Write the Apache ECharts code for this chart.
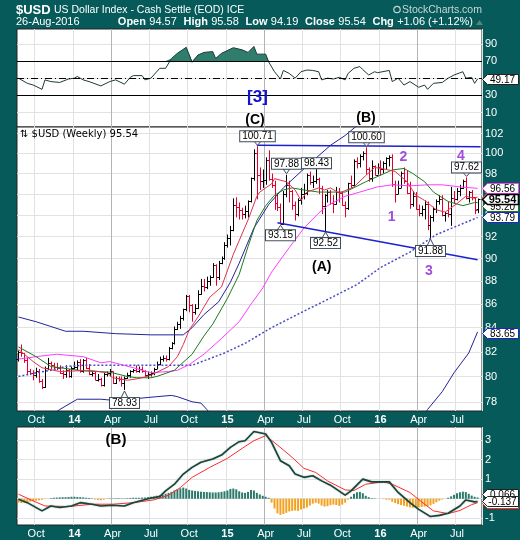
<!DOCTYPE html>
<html>
<head>
<meta charset="utf-8">
<title>$USD US Dollar Index</title>
<script src="https://cdn.jsdelivr.net/npm/echarts@6.0.0/dist/echarts.min.js"></script>
<style>
html,body{margin:0;padding:0;background:#065a5a;overflow:hidden;}
#chart{width:520px;height:540px;}
</style>
</head>
<body>
<div id="chart"></div>
<script>
// ================= DATA =================
const firstWeek = '2013-08-30';   // week-ending date of first bar
const categoryCount = 158;        // 157 weekly bars + 1 spare slot on the right

// weekly bars: [open, high, low, close]
const ohlc = [
 [81.4,82.1,81.2,82.0],[82.0,82.6,81.6,81.9],[81.9,81.9,81.1,81.3],[81.3,81.5,80.1,80.4],[80.4,80.6,80.1,80.3],
 [80.3,80.5,79.7,80.1],[80.1,80.7,79.9,80.4],[80.4,80.6,79.5,79.6],[79.6,79.8,79.0,79.2],[79.2,80.8,79.1,80.7],
 [80.7,81.5,80.5,81.1],[81.1,81.2,80.6,80.9],[80.9,81.1,80.5,80.8],[80.8,81.1,80.5,80.7],[80.7,80.9,80.2,80.3],
 [80.3,80.5,79.8,80.2],[80.2,80.9,79.9,80.5],[80.5,80.6,79.9,80.0],
 [80.0,80.8,79.9,80.7],[80.7,81.2,80.6,80.8],[80.8,81.3,80.5,81.2],[81.2,81.4,80.3,80.4],[80.4,81.4,80.3,81.3],
 [81.3,81.5,80.6,80.7],[80.7,81.0,80.1,80.2],[80.2,80.4,80.0,80.3],[80.3,80.4,79.7,79.7],[79.7,80.2,79.6,79.8],
 [79.8,79.9,79.2,79.3],[79.3,80.3,79.2,80.2],[80.2,80.4,80.0,80.3],[80.3,80.6,80.0,80.4],[80.4,80.4,79.4,79.5],
 [79.5,80.0,79.4,79.9],[79.9,80.0,79.6,79.8],[79.8,80.0,79.2,79.5],[79.5,80.0,78.93,79.9],[79.9,80.3,79.8,80.1],
 [80.1,80.5,79.9,80.4],[80.4,80.6,80.3,80.5],[80.5,80.9,80.3,80.4],[80.4,80.8,80.3,80.6],[80.6,80.8,80.3,80.4],
 [80.4,80.5,80.0,80.1],[80.1,80.4,79.8,80.2],[80.2,80.4,80.0,80.3],[80.3,80.7,80.1,80.6],[80.6,81.2,80.6,81.0],
 [81.0,81.6,80.9,81.4],[81.4,81.7,81.2,81.5],[81.5,81.7,81.2,81.4],[81.4,82.4,81.3,82.3],[82.3,82.8,82.2,82.7],
 [82.7,84.1,82.6,83.9],[83.9,84.5,83.8,84.3],[84.3,85.0,83.9,84.8],[84.8,85.6,84.6,85.6],[85.6,86.8,85.4,86.7],
 [86.7,86.8,85.3,85.9],[85.9,86.0,84.5,85.3],[85.3,86.0,85.1,85.7],[85.7,87.2,85.6,86.9],[86.9,88.2,86.8,87.6],
 [87.6,88.2,87.1,87.5],[87.5,88.4,87.3,88.0],[88.0,88.5,87.6,88.4],[88.4,89.6,88.3,89.4],[89.4,89.5,87.6,88.4],
 [88.4,89.8,88.1,89.6],[89.6,90.2,89.5,90.1],
 [90.1,91.5,89.9,91.2],[91.2,92.2,91.0,91.9],[91.9,93.0,91.2,92.6],[92.6,95.6,92.5,95.0],[95.0,95.7,93.8,94.8],
 [94.8,95.2,93.6,94.5],[94.5,94.7,93.6,94.1],[94.1,94.9,93.7,94.4],[94.4,95.4,93.8,95.3],[95.3,97.6,95.2,97.6],
 [97.6,100.4,97.3,100.0],[100.0,100.71,95.5,97.9],[97.9,98.6,96.4,97.3],[97.3,98.4,96.6,97.4],[97.4,99.6,96.9,99.3],
 [99.3,100.3,97.3,97.5],[97.5,98.0,96.6,96.9],[96.9,97.3,94.5,95.2],[95.2,96.0,94.4,94.8],[94.8,95.1,93.15,93.2],
 [93.2,96.3,93.1,96.0],[96.0,97.88,95.7,96.9],[96.9,97.3,95.2,96.3],[96.3,96.4,94.5,95.0],[95.0,95.3,93.5,94.1],
 [94.1,95.6,93.9,95.4],[95.4,96.6,95.0,96.0],[96.0,97.0,95.5,96.1],[96.1,98.0,95.9,97.9],[97.9,98.2,96.9,97.2],
 [97.2,97.8,96.6,97.3],[97.3,98.43,97.0,97.5],[97.5,97.6,96.0,96.6],[96.6,96.8,94.1,94.9],[94.9,96.0,92.52,95.9],
 [95.9,96.4,95.2,96.2],[96.2,96.4,95.0,95.2],[95.2,95.9,94.2,95.1],[95.1,96.7,95.0,96.2],[96.2,96.6,95.2,96.1],
 [96.1,96.2,94.9,95.0],[95.0,95.3,93.8,94.7],[94.7,97.1,94.5,97.1],[97.1,97.8,96.6,96.9],[96.9,99.4,96.8,99.2],
 [99.2,99.6,98.5,99.0],[99.0,99.9,98.6,99.7],[99.7,100.2,99.3,100.0],[100.0,100.60,97.9,98.4],[98.4,98.6,97.2,97.6],
 [97.6,99.3,97.2,98.7],[98.7,98.8,97.8,97.9],
 [97.9,99.0,97.9,98.6],[98.6,99.3,97.8,98.4],[98.4,99.2,98.0,99.0],[99.0,99.6,98.4,99.5],[99.5,99.8,98.7,99.6],
 [99.6,99.9,96.7,97.0],[97.0,97.3,95.2,96.0],[96.0,97.3,96.0,96.6],[96.6,98.2,96.6,98.1],[98.1,98.6,97.0,97.3],
 [97.3,98.3,96.0,96.1],[96.1,97.2,94.6,95.1],[95.1,96.3,94.8,95.8],[95.8,96.2,94.5,94.6],[94.6,95.0,93.9,94.2],
 [94.2,94.9,93.9,94.6],[94.6,95.4,93.6,95.1],[95.1,95.3,92.6,93.1],[93.1,94.0,91.88,93.8],[93.8,94.8,93.4,94.6],
 [94.6,95.5,94.2,95.3],[95.3,95.9,95.0,95.5],[95.5,95.9,93.9,94.0],[94.0,94.3,93.4,94.2],[94.2,95.3,93.8,94.1],
 [94.1,96.7,93.0,95.6],[95.6,96.3,95.1,95.5],[95.5,96.6,95.4,96.3],[96.3,96.9,95.8,96.6],[96.6,97.4,96.5,97.3],
 [97.3,97.62,95.5,95.6],[95.6,96.3,95.2,96.2],[96.2,96.4,95.4,95.7],[95.7,95.7,94.1,94.5],[94.57,95.58,94.19,95.54]
];

// overlays: [weekIndex, value]
const ma10 = [[0,82.2],[5,81.2],[8,80.7],[14,80.4],[20,80.45],[24,80.5],[30,80.3],[32,79.9],[37,79.7],[40,79.8],[42,79.9],[45,80.1],[51,80.8],[54,81.6],[56,82.6],[58,83.8],[61,84.9],[65,86.6],[69,87.5],[73,90.4],[78,93.55],[81,95.8],[82,96.2],[86,97.0],[87,97.5],[91,97.2],[94,96.4],[96,95.4],[98,96.2],[102,96.6],[104,96.4],[106,96.6],[109,96.1],[114,96.7],[118,97.8],[121,98.6],[125,98.4],[128,98.2],[132,97.2],[135,95.9],[138,95.4],[142,94.5],[145,94.3],[149,95.1],[152,95.8],[155,95.6],[156,95.74]];
const ma20 = [[0,82.4],[6,81.6],[11,80.8],[22,80.45],[31,80.35],[37,80.0],[40,79.9],[45,79.9],[47,80.0],[53,80.5],[59,81.8],[63,83.3],[66,84.3],[71,86.5],[75,88.6],[78,91.1],[81,93.5],[84,94.9],[87,95.9],[90,96.4],[93,96.6],[97,96.4],[102,96.2],[106,96.2],[111,96.2],[118,97.2],[127,98.35],[131,98.5],[134,98.0],[138,97.2],[141,96.2],[146,95.3],[151,94.9],[155,95.2],[156,95.2]];
const ma50 = [[0,81.4],[6,81.6],[13,81.8],[22,81.6],[28,81.1],[31,81.2],[39,80.7],[45,80.3],[51,80.4],[54,80.5],[58,80.95],[63,81.8],[69,83.1],[75,84.5],[79,86.0],[83,87.4],[86,88.8],[92,91.0],[97,92.8],[102,94.2],[105,94.9],[109,95.5],[111,95.8],[116,96.2],[122,96.7],[127,96.9],[133,96.8],[139,96.9],[144,96.9],[150,96.7],[156,96.56]];
const longMA = [[0,80.0],[6,80.3],[11,80.5],[16,80.8],[22,80.9],[33,80.9],[45,80.9],[54,80.9],[59,80.9],[64,81.35],[70,81.9],[77,82.7],[86,84.0],[97,85.4],[105,86.4],[115,87.7],[123,89.2],[133,90.6],[142,92.2],[150,93.1],[156,93.79]];
const upperBand = [[0,84.9],[6,84.5],[11,84.1],[16,83.7],[22,83.7],[33,83.5],[45,83.4],[53,83.4],[56,83.4],[59,84.0],[63,85.1],[68,86.2],[72,87.9],[75,89.6],[80,92.8],[85,95.0],[90,96.6],[96,98.2],[101,99.5],[106,100.8],[111,101.8],[115,102.8],[120,103.8]];
const lowerBandA = [[9,76.6],[14,77.4],[20,78.2],[28,78.2],[33,78.1],[47,78.4],[52,78.5],[54,78.4],[59,78.0],[62,77.9],[64,77.4],[67,76.6]];
const lowerBandB = [[136,76.3],[139,77.4],[144,78.8],[148,80.3],[153,81.9],[156,83.65]];
const topTrend = [[81,100.8],[157,100.66]];
const bottomTrend = [[88,93.3],[156,89.9]];

const rsi = [[0,50],[3,44],[5,42],[8,37],[9,48],[11,46],[14,45],[17,49],[19,50],[20,52],[22,48],[24,46],[28,41],[31,46],[33,48],[36,43],[38,51],[39,53],[42,53],[43,48],[45,50],[48,61.5],[50,61.5],[52,73],[54,79],[57,86],[59,68.5],[61,77],[63,80],[66,81],[67,73],[69,79],[73,85.5],[76,83],[78,80],[80,87],[81,78],[84,78],[85,69],[87,57.5],[89,49],[90,59],[92,55.5],[94,50],[96,57.5],[98,59.5],[100,59],[102,57.5],[103,48],[105,50],[107,49],[109,51],[111,48],[112,55.5],[114,61.5],[116,63.5],[117,60],[119,53.7],[121,57.5],[122,56.4],[126,59],[127,46],[129,50],[131,42],[133,46],[136,39.4],[138,42],[139,37],[141,44],[144,45],[146,50],[148,53.7],[151,57.5],[152,50],[154,51],[155,44],[156,49.17]];

const macdLine = [[0,-0.03],[3,-0.2],[8,-0.62],[11,-0.37],[14,-0.45],[18,-0.37],[21,-0.2],[25,-0.28],[28,-0.37],[32,-0.33],[36,-0.37],[39,-0.2],[44,0],[48,0.11],[50,0.4],[53,0.74],[56,1.26],[59,1.6],[62,1.86],[66,2.03],[69,2.23],[72,2.62],[75,2.91],[77,2.96],[80,3.43],[84,3.3],[86,2.88],[89,1.94],[92,1.68],[94,1.26],[97,1.09],[100,1.17],[103,0.91],[106,0.69],[111,0.18],[113,0.4],[117,1.0],[120,0.86],[126,0.86],[129,0.32],[133,-0.2],[136,-0.54],[140,-0.91],[143,-0.85],[146,-0.74],[150,-0.37],[152,-0.06],[155,-0.16],[156,-0.137]];
const signalLine = [[0,0.23],[5,-0.11],[9,-0.37],[17,-0.4],[25,-0.28],[32,-0.28],[39,-0.2],[46,-0.06],[51,0.18],[55,0.57],[59,1.09],[65,1.6],[71,2.06],[76,2.57],[80,2.96],[84,3.22],[88,2.74],[93,2.11],[97,1.55],[101,1.34],[105,0.91],[111,0.45],[114,0.42],[118,0.74],[124,0.86],[127,0.74],[133,0.32],[137,-0.16],[141,-0.62],[146,-0.76],[150,-0.6],[154,-0.3],[156,-0.203]];
const histogram = [
 -0.2,-0.22,-0.2,-0.18,-0.15,-0.12,-0.1,-0.08,-0.05,-0.02,0.0,
 0.03,0.05,0.06,0.07,0.08,0.08,0.09,0.1,0.1,0.09,0.08,0.07,0.05,0.04,0.02,
 -0.04,-0.07,-0.08,-0.05,
 0.01,0.02,0.02,0.03,0.03,0.02,0.02,0.03,0.04,0.05,0.05,0.05,0.06,0.06,
 0.08,0.1,0.12,0.15,0.18,0.2,
 0.25,0.3,0.35,0.42,0.48,0.53,0.57,
 0.52,0.45,0.42,0.4,0.38,0.36,0.35,0.34,0.33,0.32,0.32,0.33,0.35,0.38,0.42,
 0.5,0.52,0.48,0.38,0.32,0.3,0.35,0.45,0.42,0.3,0.22,0.15,0.1,0.05,
 -0.2,-0.5,-0.75,-0.82,-0.78,-0.72,-0.65,-0.62,-0.6,-0.62,
 -0.55,-0.5,-0.45,-0.35,-0.25,-0.2,-0.25,-0.35,
 -0.4,-0.38,-0.33,-0.3,-0.32,-0.36,-0.3,-0.2,-0.05,0.1,
 0.25,0.33,0.35,0.28,0.15,0.08,0.03,0.02,
 0.0,0.0,-0.02,-0.05,
 -0.05,-0.15,-0.22,-0.28,-0.32,-0.36,-0.4,-0.44,-0.46,-0.46,-0.44,-0.42,-0.4,-0.38,-0.34,-0.26,-0.18,-0.1,-0.04,0.0,
 0.05,0.12,0.2,0.28,0.33,0.36,0.34,0.25,0.16,0.1,0.066
];

const priceTicks = [78,80,82,84,86,88,90,92,94,96,98,100,102];
const rsiTickLabels = [10,30,70,90];
const rsiGridLines = [10,30,50,70,90];
const macdTicks = [-1,0,1,2,3];

// price annotations [weekIndex, value, above(true)/below(false), gap px]
const priceNotes = [[81,100.71,true,10],[91,97.88,true,11],[101,98.43,true,6],[89,93.15,false,11],[104,92.52,false,12],
                    [118,100.60,true,10],[140,91.88,false,13],[152,97.62,true,10],[36,78.93,false,13]];

// ================= BUILD =================
const DAY = 86400000;
const t0 = Date.parse(firstWeek + 'T00:00:00Z');
const cats = [], months = [], years = [];
for (let k = 0; k < categoryCount; k++) {
  const d = new Date(t0 + 7 * k * DAY);
  cats.push(d.toISOString().slice(0, 10));
  months.push(d.getUTCMonth());
  years.push(d.getUTCFullYear());
}
const MON = ['Jan','Feb','Mar','Apr','May','Jun','Jul','Aug','Sep','Oct','Nov','Dec'];
const markText = {};
for (let k = 1; k < categoryCount; k++) {
  const j = k - 1, m = months[j];
  if (m % 3 === 0 && j > 0 && months[j - 1] !== m) {
    markText[k] = m === 0 ? '{y|' + String(years[j]).slice(2) + '}' : MON[m];
  }
}
const isMark = (idx) => Object.prototype.hasOwnProperty.call(markText, idx);
const FONT = 'Arial, "Liberation Sans", sans-serif';
const splitColors = ['#e2e2e2', '#e2e2e2', '#b4b4b4', '#e2e2e2'];

function xAxisFor(gi, showLabels) {
  return {
    type: 'category', gridIndex: gi, data: cats, boundaryGap: true,
    axisLine: { show: false }, axisTick: { show: false },
    axisLabel: {
      show: showLabels, interval: (idx) => isMark(idx), formatter: (v, idx) => markText[idx] || '',
      color: '#fff', fontSize: 11, fontFamily: FONT, margin: 3,
      rich: { y: { fontWeight: 'bold', color: '#fff', fontSize: 11, fontFamily: FONT } }
    },
    splitLine: { show: true, interval: (idx) => isMark(idx), lineStyle: { color: splitColors, width: 1 } }
  };
}

const L = Math.log;
const lnPairs = (arr) => arr.map(p => [p[0], L(p[1])]);

const bars = ohlc.map((r, i) => {
  const prev = i > 0 ? ohlc[i - 1][3] : r[0];
  return [i, L(r[0]), L(r[1]), L(r[2]), L(r[3]), r[3] < prev ? 1 : 0];
});

const chart = echarts.init(document.getElementById('chart'), null, { renderer: 'canvas' });

const lineBase = (xi, yi, data, color, width, extra) => Object.assign({
  type: 'line', xAxisIndex: xi, yAxisIndex: yi, data, symbol: 'none', silent: true,
  lineStyle: { color, width }, itemStyle: { color }, z: 3
}, extra || {});

const option = {
  animation: false,
  backgroundColor: '#065a5a',
  grid: [
    { left: 17, right: 38, top: 29, height: 98, show: true, backgroundColor: '#fff', borderColor: '#222', borderWidth: 1 },
    { left: 17, right: 38, top: 127, height: 284, show: true, backgroundColor: '#fff', borderColor: '#222', borderWidth: 1 },
    { left: 17, right: 38, top: 427, height: 98, show: true, backgroundColor: '#fff', borderColor: '#222', borderWidth: 1 }
  ],
  xAxis: [xAxisFor(0, false), xAxisFor(1, true), xAxisFor(2, true)],
  yAxis: [
    { type: 'value', gridIndex: 0, position: 'right', min: -6.9, max: 107.3,
      axisLine: { show: false }, axisTick: { show: false, customValues: rsiGridLines },
      axisLabel: { customValues: rsiTickLabels, color: '#fff', fontSize: 11, fontFamily: FONT, margin: 3 },
      splitLine: { lineStyle: { color: '#e2e2e2' } } },
    { type: 'value', gridIndex: 1, position: 'right', min: 4.3475, max: 4.6315,
      axisLine: { show: false }, axisTick: { show: false, customValues: priceTicks.map(L) },
      axisLabel: { customValues: priceTicks.map(L), formatter: (v) => String(Math.round(Math.exp(v))),
                   color: '#fff', fontSize: 11, fontFamily: FONT, margin: 3 },
      splitLine: { lineStyle: { color: '#e2e2e2' } } },
    { type: 'value', gridIndex: 2, position: 'right', min: -1.34, max: 3.66,
      axisLine: { show: false }, axisTick: { show: false, customValues: macdTicks },
      axisLabel: { customValues: macdTicks, color: '#fff', fontSize: 11, fontFamily: FONT, margin: 3 },
      splitLine: { lineStyle: { color: '#e2e2e2' } } }
  ],
  series: [
    // RSI fill above 70
    lineBase(0, 0, rsi.map(p => [p[0], Math.max(p[1], 70)]), '#2f7d6d', 0,
      { areaStyle: { origin: 70, color: '#2f7d6d', opacity: 1 }, lineStyle: { width: 0, opacity: 0 }, z: 2 }),
    // RSI line + reference levels
    lineBase(0, 0, rsi, '#1f3a3a', 1, {
      markLine: { silent: true, symbol: 'none', label: { show: false },
        lineStyle: { color: '#000', width: 1, type: 'solid' },
        data: [{ yAxis: 70 }, { yAxis: 30 }, { yAxis: 50, lineStyle: { type: [7, 3, 1, 3], color: '#000' } }] }
    }),
    // price bars
    {
      type: 'custom', xAxisIndex: 1, yAxisIndex: 1, data: bars, silent: true, z: 2,
      encode: { x: 0, y: [1, 2, 3, 4] },
      renderItem: (params, api) => {
        const i = api.value(0);
        const pO = api.coord([i, api.value(1)]);
        const pH = api.coord([i, api.value(2)]);
        const pL = api.coord([i, api.value(3)]);
        const pC = api.coord([i, api.value(4)]);
        const x = Math.round(pH[0]) + 0.5;
        const col = api.value(5) ? '#e1002c' : '#000';
        const yo = Math.round(pO[1]) + 0.5, yc = Math.round(pC[1]) + 0.5;
        return { type: 'group', children: [
          { type: 'line', shape: { x1: x, y1: pH[1], x2: x, y2: pL[1] }, style: { stroke: col, lineWidth: 1 } },
          { type: 'line', shape: { x1: x - 2, y1: yo, x2: x, y2: yo }, style: { stroke: col, lineWidth: 1 } },
          { type: 'line', shape: { x1: x, y1: yc, x2: x + 2, y2: yc }, style: { stroke: col, lineWidth: 1 } }
        ] };
      }
    },
    lineBase(1, 1, lnPairs(upperBand), '#23239a', 1),
    lineBase(1, 1, lnPairs(lowerBandA), '#23239a', 1),
    lineBase(1, 1, lnPairs(lowerBandB), '#23239a', 1),
    lineBase(1, 1, lnPairs(longMA), '#4b4bc6', 1.5, {
      lineStyle: { color: '#4b4bc6', width: 1.5, type: [2, 2] },
      markLine: { silent: true, symbol: 'none', label: { show: false },
        lineStyle: { color: '#1c22cc', width: 1.5, type: 'solid' },
        data: [
          [{ coord: [topTrend[0][0], L(topTrend[0][1])] }, { coord: [topTrend[1][0], L(topTrend[1][1])] }],
          [{ coord: [bottomTrend[0][0], L(bottomTrend[0][1])] }, { coord: [bottomTrend[1][0], L(bottomTrend[1][1])] }]
        ] }
    }),
    lineBase(1, 1, lnPairs(ma50), '#ff3cff', 1),
    lineBase(1, 1, lnPairs(ma20), '#1d7a1d', 1),
    lineBase(1, 1, lnPairs(ma10), '#de3350', 1),
    // MACD
    { type: 'bar', xAxisIndex: 2, yAxisIndex: 2, silent: true, barWidth: 2,
      data: histogram.map(v => ({ value: v, itemStyle: { color: v >= 0 ? '#2b7a6a' : '#f3a21f' } })) },
    lineBase(2, 2, signalLine, '#ff2a2a', 1),
    lineBase(2, 2, macdLine, '#17463a', 1.6, { lineStyle: { color: '#17463a', width: 1.6, shadowColor: 'rgba(90,110,110,0.6)', shadowBlur: 1.5 } })
  ]
};
chart.setOption(option);

// ================= ANNOTATIONS (positioned through the chart's own scales) =================
const P = (gi, i, v) => chart.convertToPixel({ gridIndex: gi }, [i, v]);
const G = [];
let zc = 100;
const txt = (x, y, text, font, fill, align, extra) => G.push({ type: 'text', x, y, z: zc++, silent: true,
  style: Object.assign({ text, font, fill, align: align || 'left', verticalAlign: 'middle' }, extra || {}) });

// header
G.push({ type: 'text', x: 16, y: 10, z: zc++, silent: true, style: {
  text: '{a|$USD} {b|US Dollar Index - Cash Settle (EOD) ICE}', verticalAlign: 'middle',
  rich: { a: { fontSize: 13, fontWeight: 'bold', fill: '#fff', fontFamily: FONT },
          b: { fontSize: 10.5, fill: '#fff', fontFamily: FONT } } } });
txt(16, 22, '26-Aug-2016', '11px ' + FONT, '#fff');
G.push({ type: 'text', x: 473, y: 22, z: zc++, silent: true, style: {
  text: '{k|Open} {v|94.57}  {k|High} {v|95.58}  {k|Low} {v|94.19}  {k|Close} {v|95.54}  {k|Chg} {v|+1.06 (+1.12%)}',
  align: 'right', verticalAlign: 'middle',
  rich: { k: { fontSize: 11, fontWeight: 'bold', fill: '#fff', fontFamily: FONT },
          v: { fontSize: 11, fill: '#fff', fontFamily: FONT } } } });
G.push({ type: 'polygon', z: zc++, silent: true, shape: { points: [[476, 25], [483, 25], [479.5, 20]] }, style: { fill: '#5d8272' } });
G.push({ type: 'circle', z: zc++, silent: true, shape: { cx: 397, cy: 9.5, r: 3.2 }, style: { fill: 'none', stroke: '#c9d6d6', lineWidth: 1.2 } });
txt(402, 10, 'StockCharts.com', '10.5px ' + FONT, '#c9d6d6');

// main panel title
txt(20, 134, '\u21C5 $USD (Weekly) 95.54', '10px "DejaVu Sans", Verdana, sans-serif', '#000');

// wave labels
txt(257.5, 97.5, '[3]', 'bold 17px ' + FONT, '#1212d8', 'center');
txt(255, 120, '(C)', 'bold 14px ' + FONT, '#000', 'center');
txt(366, 118, '(B)', 'bold 14px ' + FONT, '#000', 'center');
txt(321.7, 267.5, '(A)', 'bold 14px ' + FONT, '#000', 'center');
txt(116, 439.5, '(B)', 'bold 15px ' + FONT, '#000', 'center');
const PURPLE = '#a24ddb';
txt(391.7, 217, '1', 'bold 14px ' + FONT, PURPLE, 'center');
txt(403.5, 157, '2', 'bold 14px ' + FONT, PURPLE, 'center');
txt(429, 271, '3', 'bold 14px ' + FONT, PURPLE, 'center');
txt(461, 156, '4', 'bold 14px ' + FONT, PURPLE, 'center');

// price value boxes with carets
priceNotes.forEach(n => {
  const p = P(1, n[0], L(n[1]));
  const x = Math.round(p[0]) + 0.5;
  const cy = n[2] ? p[1] - n[3] : p[1] + n[3];
  const edge = n[2] ? cy + 5 : cy - 5;
  const tip = n[2] ? p[1] - 1 : p[1] + 1;
  G.push({ type: 'polygon', z: zc++, silent: true, shape: { points: [[x - 3.5, edge], [x + 3.5, edge], [x, tip]] },
           style: { fill: '#fff', stroke: '#3d4b5a', lineWidth: 1 } });
  G.push({ type: 'text', x, y: cy, z: zc++, silent: true, style: {
    text: n[1].toFixed(2), font: '10px ' + FONT, fill: '#000', align: 'center', verticalAlign: 'middle',
    backgroundColor: '#fff', borderColor: '#3d4b5a', borderWidth: 1, padding: [0, 2, 0, 2], lineHeight: 10 } });
});

// right-edge value tags
function tag(gi, value, yShift, text, border, bold) {
  const p = P(gi, 156, value);
  const y = Math.round(p[1] + yShift) + 0.5;
  const x0 = 482.5;
  G.push({ type: 'polygon', z: zc++, silent: true,
    shape: { points: [[x0, y], [x0 + 5, y - 5], [518.5, y - 5], [518.5, y + 5], [x0 + 5, y + 5]] },
    style: { fill: '#fff', stroke: border, lineWidth: bold ? 1.6 : 1 } });
  G.push({ type: 'text', x: 502.5, y: y + 0.5, z: zc++, silent: true,
    style: { text, font: (bold ? 'bold 11px ' : '10px ') + FONT, fill: '#000', align: 'center', verticalAlign: 'middle' } });
}
tag(0, 49.17, 0, '49.17', '#222', false);
tag(1, L(95.2), 3, '95.20', '#1d7a1d', false);
tag(1, L(95.74), 0, '95.74', '#de3350', false);
tag(1, L(96.56), 0, '96.56', '#ff3cff', false);
tag(1, L(95.54), 0, '95.54', '#000', true);
tag(1, L(93.79), 0, '93.79', '#1c22cc', false);
tag(1, L(83.65), 1, '83.65', '#1c22cc', false);
tag(2, -0.203, 0.5, '-0.203', '#ff2a2a', false);
tag(2, 0.066, -3, '0.066', '#222', false);
tag(2, -0.137, 0, '-0.137', '#222', false);

chart.setOption({ graphic: G });
</script>
</body>
</html>
